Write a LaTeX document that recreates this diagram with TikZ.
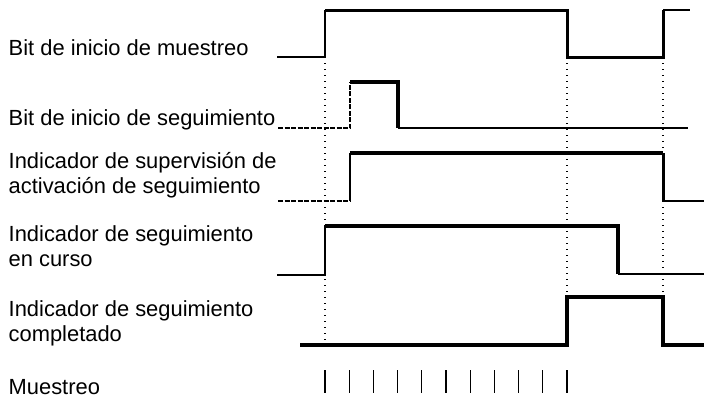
\documentclass[tikz,border=0pt]{standalone}
\usepackage{fontspec}
\setmainfont{Liberation Sans}
\usepackage{tikz}

\begin{document}
\begin{tikzpicture}[
  x=1pt,
  y=-1pt,
  lbl/.style={
    anchor=base west,
    align=left,
    inner sep=0pt,
    font=\fontsize{21.9}{25.5}\selectfont
  },
  wire/.style={line width=1.3pt},
  wiremid/.style={line width=3pt,line cap=square},
  wirebold/.style={line width=4.5pt,line cap=square},
  wiredash/.style={line width=1.5pt,dash pattern=on 5pt off 1.5pt},
  guide/.style={line width=1.2pt,dash pattern=on 1.3pt off 4.7pt},
  tick/.style={line width=1.1pt}
]
\useasboundingbox (0,0) rectangle (704,399);

\node[lbl] (muestreobit) at (8.5,55) {Bit de inicio de muestreo};
\node[lbl] (seguimbit) at (8.5,125) {Bit de inicio de seguimiento};
\node[lbl] (supervflag) at (8.5,193.5)
  {Indicador de supervisión de\\activación de seguimiento};
\node[lbl] (cursoflag) at (8.5,266.5)
  {Indicador de seguimiento\\en curso};
\node[lbl] (completoflag) at (8.5,341.5)
  {Indicador de seguimiento\\completado};
\node[lbl] (muestreo) at (8.5,394) {Muestreo};

\draw[guide] (325,57) -- (325,345);
\draw[guide] (567,57) -- (567,297);
\draw[guide] (663,57) -- (663,294);

\draw[wire] (277,57) -- (325,57) -- (325,10);
\draw[wiremid] (325,10) -- (567,10) -- (567,57) -- (663,57) -- (663,10);
\draw[wire] (663,10) -- (690,10);

\draw[wiredash] (278,128) -- (350,128) -- (350,82);
\draw[wirebold] (350,82) -- (398,82) -- (398,128);
\draw[wire] (398,128) -- (688,128);

\draw[wiredash] (278,201) -- (350,201);
\draw[wire] (350,201) -- (350,153);
\draw[wirebold] (350,153) -- (663,153);
\draw[wiremid] (663,153) -- (663,201);
\draw[wire] (663,201) -- (704,201);

\draw[wire] (277,275) -- (325,275) -- (325,226);
\draw[wirebold] (325,226) -- (618,226) -- (618,274);
\draw[wire] (618,274) -- (704,274);

\draw[wirebold] (300,345) -- (567,345) -- (567,297) -- (663,297)
  -- (663,345) -- (704,345);

\foreach \k in {0,...,10}
  \draw[tick] ({325+24.2*\k},370) -- ({325+24.2*\k},393);
\end{tikzpicture}
\end{document}
